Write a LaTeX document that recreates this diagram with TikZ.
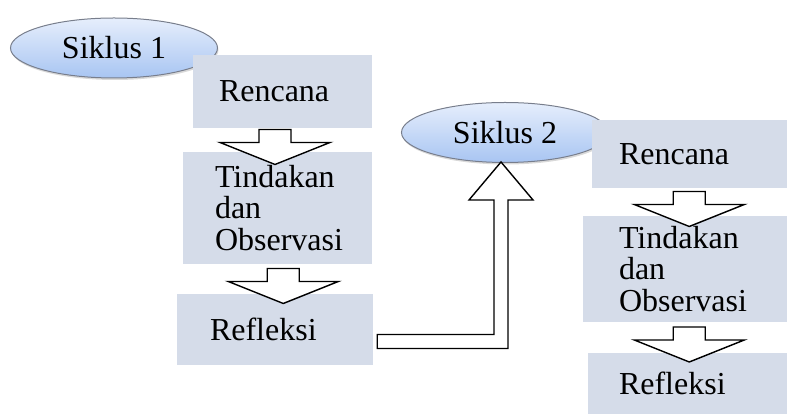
\documentclass[tikz,border=0pt]{standalone}
\usepackage{fontspec}
\setmainfont{Liberation Serif}
\usetikzlibrary{calc,shapes.geometric,shadows}
\hyphenpenalty=10000

\definecolor{boxfill}{RGB}{213,220,233}
\definecolor{siklustop}{RGB}{230,238,252}
\definecolor{siklusbottom}{RGB}{168,197,242}
\definecolor{siklusline}{RGB}{120,126,140}

\begin{document}
\begin{tikzpicture}
  [x=1pt,y=1pt,every node/.style={font=\fontsize{32}{31.5}\selectfont},
   siklus/.style={ellipse,draw=siklusline,line width=1pt,top color=siklustop,
     bottom color=siklusbottom,minimum width=207pt,minimum height=60pt,inner sep=0pt,
     drop shadow={opacity=0.3,shadow xshift=1pt,shadow yshift=-2pt}},
   stage/.style={rectangle,fill=boxfill,align=left,inner ysep=0pt},
   blockarrow/.style={draw=black,fill=white,line width=1.4pt,line join=miter}]
  \useasboundingbox (0,0) rectangle (787,414);
  % first cycle
  \node[siklus] (e1) at (114,366) {Siklus 1};
  \node[stage,minimum height=73pt,text width=127pt,inner xsep=26pt] (r1) at (282.5,322.5) {Rencana};
  \node[stage,minimum height=112pt,text width=125pt,inner xsep=32pt] (t1) at (277.5,206) {Tindakan\\dan\\Observasi};
  \node[stage,minimum height=71pt,text width=130pt,inner xsep=33pt] (f1) at (275,84.5) {Refleksi};
  % second cycle
  \node[siklus] (e2) at (505,281.5) {Siklus 2};
  \node[stage,minimum height=68pt,text width=141pt,inner xsep=27pt] (r2) at (689.5,260) {Rencana};
  \node[stage,minimum height=106pt,text width=132pt,inner xsep=36pt] (t2) at (685,145) {Tindakan\\dan\\Observasi};
  \node[stage,minimum height=61pt,text width=137pt,inner xsep=31pt] (f2) at (687.5,30.5) {Refleksi};
  % arrows between the stages
  \foreach \from/\to/\dx in {r1/t1/-5,t1/f1/7,r2/t2/2,t2/f2/3}
    \draw[blockarrow] ($(\from.south)!.5!(\to.north)+(\dx-16,10.5)$)
      -- ++(0,-13) -- ++(-39,0) -- ++(55,-22) -- ++(55,22) -- ++(-39,0) -- ++(0,13) -- cycle;
  % from Refleksi to the next cycle
  \coordinate (lstart) at ([xshift=4pt,yshift=-5pt]f1.east);
  \coordinate (ltip) at ([xshift=-4pt,yshift=1pt]e2.south);
  \draw[blockarrow] (lstart) -- ($(lstart -| ltip)+(-7,0)$) -- ($(ltip)+(-7,-38)$)
    -- ($(ltip)+(-32,-38)$) -- (ltip) -- ($(ltip)+(32,-38)$) -- ($(ltip)+(7,-38)$)
    -- ($(lstart -| ltip)+(7,-14)$) -- ($(lstart)+(0,-14)$) -- cycle;
\end{tikzpicture}
\end{document}
